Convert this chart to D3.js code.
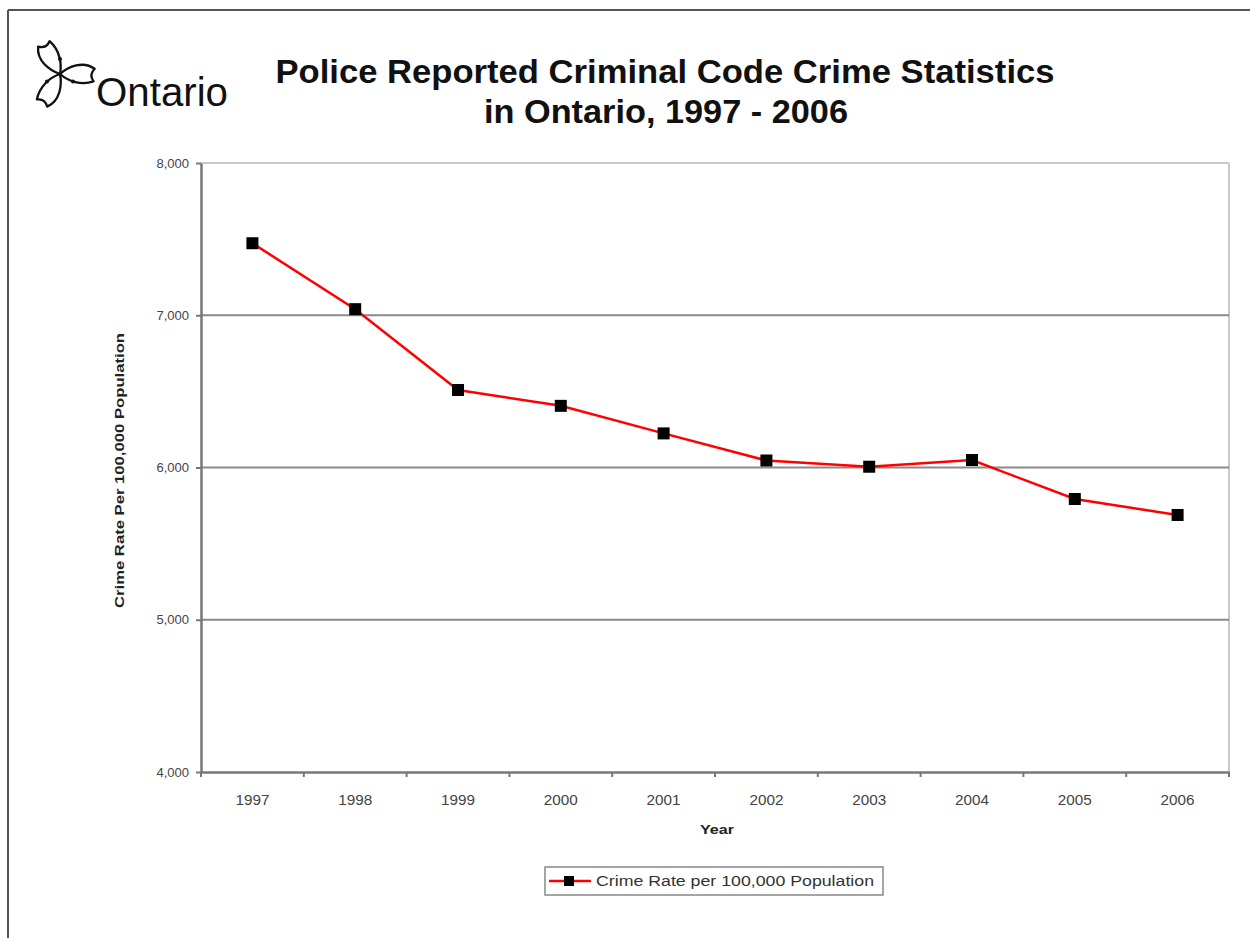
<!DOCTYPE html>
<html>
<head>
<meta charset="utf-8">
<script src="https://cdn.jsdelivr.net/npm/d3@7"></script>
<style>
  html, body { margin: 0; padding: 0; background: #fff; }
  svg { display: block; }
</style>
</head>
<body>
<svg id="chart" width="1250" height="938"></svg>
<script>
const years = ["1997","1998","1999","2000","2001","2002","2003","2004","2005","2006"];
const crimeRate = [7473, 7040, 6509, 6405, 6224, 6046, 6005, 6049, 5793, 5688];
const yTicks = [4000, 5000, 6000, 7000, 8000];
const titleLines = ["Police Reported Criminal Code Crime Statistics", "in Ontario, 1997 - 2006"];
const seriesName = "Crime Rate per 100,000 Population";
const xTitle = "Year";
const yTitle = "Crime Rate Per 100,000 Population";

const svg = d3.select("#chart");
const plot = { left: 201, right: 1229, top: 163, bottom: 772 };
const FONT = "Liberation Sans, Arial, sans-serif";
const NARROW = "Liberation Sans Narrow, Arial Narrow, Liberation Sans, Arial, sans-serif";

// outer frame
svg.append("line").attr("x1", 8).attr("y1", 10).attr("x2", 8).attr("y2", 938)
  .attr("stroke", "#555").attr("stroke-width", 2);
svg.append("line").attr("x1", 8).attr("y1", 10).attr("x2", 1250).attr("y2", 10)
  .attr("stroke", "#555").attr("stroke-width", 2);

// logo (trillium)
const logo = svg.append("g").attr("transform", "translate(60,74)");
const petal = "M0,0 C-7,-8 -13,-22 -5,-33 C-1,-29 3,-29 7,-32 C11,-20 7,-8 0,0 Z";
[90, 210, 330].forEach(a => {
  logo.append("path").attr("d", petal).attr("transform", `rotate(${a}) scale(1.05)`)
    .attr("fill", "none").attr("stroke", "#111").attr("stroke-width", 2.2)
    .attr("stroke-linejoin", "round");
});
[30, 150, 270].forEach(a => {
  const r = 15, rad = a * Math.PI / 180;
  logo.append("circle").attr("cx", r * Math.cos(rad)).attr("cy", r * Math.sin(rad))
    .attr("r", 2).attr("fill", "#111");
});
svg.append("text").attr("x", 96).attr("y", 106)
  .attr("font-family", FONT).attr("font-size", 40)
  .attr("fill", "#111").attr("textLength", 132).attr("lengthAdjust", "spacingAndGlyphs")
  .text("Ontario");

// title
svg.append("text").attr("x", 665).attr("y", 83).attr("text-anchor", "middle")
  .attr("font-family", NARROW).attr("font-weight", "bold")
  .attr("font-size", 34).attr("fill", "#111")
  .attr("textLength", 779).attr("lengthAdjust", "spacingAndGlyphs").text(titleLines[0]);
svg.append("text").attr("x", 666).attr("y", 123).attr("text-anchor", "middle")
  .attr("font-family", NARROW).attr("font-weight", "bold")
  .attr("font-size", 34).attr("fill", "#111")
  .attr("textLength", 364).attr("lengthAdjust", "spacingAndGlyphs").text(titleLines[1]);

// scales
const x = d3.scaleBand().domain(years).range([plot.left, plot.right]).padding(0);
const y = d3.scaleLinear().domain([4000, 8000]).range([plot.bottom, plot.top]);

// plot border (top/right light)
svg.append("line").attr("x1", plot.left).attr("x2", plot.right)
  .attr("y1", y(8000)).attr("y2", y(8000)).attr("stroke", "#c8c8c8").attr("stroke-width", 2);
svg.append("line").attr("x1", plot.right).attr("x2", plot.right)
  .attr("y1", plot.top).attr("y2", plot.bottom).attr("stroke", "#c8c8c8").attr("stroke-width", 2);

// gridlines
svg.append("g").selectAll("line").data([5000, 6000, 7000]).join("line")
  .attr("x1", plot.left).attr("x2", plot.right)
  .attr("y1", d => y(d)).attr("y2", d => y(d))
  .attr("stroke", "#8a8a8a").attr("stroke-width", 2);

// y axis
const yAxis = d3.axisLeft(y).tickValues(yTicks).tickSize(5).tickSizeOuter(0)
  .tickFormat(d3.format(","));
const gy = svg.append("g").attr("transform", `translate(${plot.left},0)`).call(yAxis);
gy.select(".domain").attr("stroke", "#777").attr("stroke-width", 2.5);
gy.selectAll(".tick line").attr("stroke", "#777").attr("stroke-width", 2);
gy.selectAll(".tick text").attr("font-family", FONT)
  .attr("font-size", 13).attr("fill", "#444").attr("x", -12);

// x axis
const xAxis = d3.axisBottom(x).tickSize(0).tickSizeOuter(0);
const gx = svg.append("g").attr("transform", `translate(0,${plot.bottom})`).call(xAxis);
gx.select(".domain").attr("stroke", "#777").attr("stroke-width", 2.5);
gx.selectAll(".tick text").attr("font-family", FONT)
  .attr("font-size", 14).attr("fill", "#444").attr("dy", "0").attr("y", 33)
  .attr("textLength", 34).attr("lengthAdjust", "spacingAndGlyphs");
// category boundary ticks
const bounds = years.map(yr => x(yr)).concat([x(years[years.length - 1]) + x.bandwidth()]);
gx.append("g").selectAll("line").data(bounds).join("line")
  .attr("x1", d => d).attr("x2", d => d).attr("y1", 0).attr("y2", 5)
  .attr("stroke", "#777").attr("stroke-width", 2);

// axis titles
svg.append("text").attr("x", x(years[4]) + x.bandwidth() + 2).attr("y", 834).attr("text-anchor", "middle")
  .attr("font-family", FONT).attr("font-weight", "bold")
  .attr("font-size", 13).attr("fill", "#222")
  .attr("textLength", 34).attr("lengthAdjust", "spacingAndGlyphs").text(xTitle);
svg.append("text").attr("transform", `translate(124,${(plot.top + plot.bottom) / 2 + 3}) rotate(-90)`)
  .attr("text-anchor", "middle")
  .attr("font-family", FONT).attr("font-weight", "bold")
  .attr("font-size", 13).attr("fill", "#222")
  .attr("textLength", 275).attr("lengthAdjust", "spacingAndGlyphs").text(yTitle);

// series
const cx = d => x(d) + x.bandwidth() / 2;
const pts = years.map((yr, i) => [cx(yr), y(crimeRate[i])]);
svg.append("path").attr("d", d3.line()(pts)).attr("fill", "none")
  .attr("stroke", "#ff0000").attr("stroke-width", 2.5);
svg.append("g").selectAll("rect").data(pts).join("rect")
  .attr("x", d => d[0] - 6).attr("y", d => d[1] - 6).attr("width", 12).attr("height", 12)
  .attr("fill", "#000");

// legend
const lg = svg.append("g");
lg.append("rect").attr("x", 545).attr("y", 867).attr("width", 338).attr("height", 28)
  .attr("fill", "#fff").attr("stroke", "#888").attr("stroke-width", 1.5);
lg.append("line").attr("x1", 549).attr("x2", 591).attr("y1", 881).attr("y2", 881)
  .attr("stroke", "#ff0000").attr("stroke-width", 2.5);
lg.append("rect").attr("x", 564).attr("y", 876).attr("width", 10).attr("height", 10).attr("fill", "#000");
lg.append("text").attr("x", 596).attr("y", 886)
  .attr("font-family", FONT).attr("font-size", 14)
  .attr("fill", "#333").attr("textLength", 278).attr("lengthAdjust", "spacingAndGlyphs").text(seriesName);
</script>
</body>
</html>
